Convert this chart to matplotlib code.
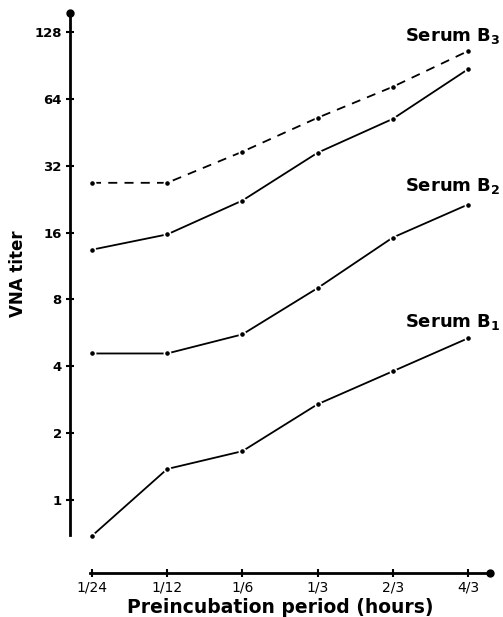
import numpy as np
import matplotlib.pyplot as plt

# ---- Data ----
X_LABELS = ["1/24", "1/12", "1/6", "1/3", "2/3", "4/3"]
Y_TICKS = [1, 2, 4, 8, 16, 32, 64, 128]

B3_DASHED = [26.8, 26.8, 37.0, 52.6, 72.5, 105.0]
B3_SOLID = [13.4, 15.7, 22.3, 36.6, 52.0, 87.0]
B2 = [4.57, 4.57, 5.57, 9.0, 15.2, 21.4]
B1 = [0.69, 1.38, 1.66, 2.7, 3.8, 5.35]

SERIES = [
    (B3_DASHED, (0, (5, 4))),
    (B3_SOLID, "-"),
    (B2, "-"),
    (B1, "-"),
]
LABELS = [
    ("Serum B$_\\mathbf{3}$", 2 ** 6.79),
    ("Serum B$_\\mathbf{2}$", 2 ** 4.54),
    ("Serum B$_\\mathbf{1}$", 2 ** 2.52),
]


def main():
    fig = plt.figure(figsize=(5.03, 6.17), dpi=100)
    W, H = 503, 617
    left, right, top, bottom = 70, 490, 13, 535
    ax = fig.add_axes([left / W, 1 - bottom / H, (right - left) / W, (bottom - top) / H])

    x = np.arange(len(X_LABELS))
    for vals, ls in SERIES:
        ax.plot(x, vals, color="black", lw=1.3, linestyle=ls,
                marker="o", ms=4.5, mfc="black", mec="white", mew=1.2,
                clip_on=False, zorder=3)

    px_per_unit = 75.2
    for txt, yv in LABELS:
        ax.text((501 - 92) / px_per_unit, yv, txt, ha="right", va="bottom",
                fontsize=13, fontweight="bold", clip_on=False)

    ax.set_yscale("log", base=2)
    ax.set_xlim(-22 / px_per_unit, 5 + 22 / px_per_unit)
    ax.set_ylim(2 ** (-35 / 67), 2 ** (7 + 19 / 67))

    ax.set_yticks(Y_TICKS)
    ax.set_yticklabels([str(v) for v in Y_TICKS], fontsize=9.5, fontweight="bold")
    ax.minorticks_off()
    ax.set_xticks(x)
    ax.set_xticklabels(X_LABELS, fontsize=9.5, fontweight="bold")

    for s in ["top", "right"]:
        ax.spines[s].set_visible(False)
    ax.spines["left"].set_linewidth(2)
    ax.spines["bottom"].set_linewidth(2)
    ax.spines["bottom"].set_position(("outward", 27))
    ax.spines["bottom"].set_bounds(-0.02, 5 + 22 / px_per_unit)

    ax.tick_params(axis="both", direction="inout", length=6, width=1.5, pad=3)

    # dots at the axis ends
    ax.plot([0], [1], marker="o", ms=5, color="black", transform=ax.transAxes,
            clip_on=False)
    ax.plot([5 + 22 / px_per_unit], [0], marker="o", ms=5, color="black",
            clip_on=False)
    ax.lines[-1].set_transform(ax.spines["bottom"].get_spine_transform())

    ax.set_xlabel("Preincubation period (hours)", fontsize=13.5, fontweight="bold",
                  labelpad=2)
    ax.set_ylabel("VNA titer", fontsize=12, fontweight="bold", labelpad=5)

    plt.savefig("out.png", dpi=100)


if __name__ == "__main__":
    main()
